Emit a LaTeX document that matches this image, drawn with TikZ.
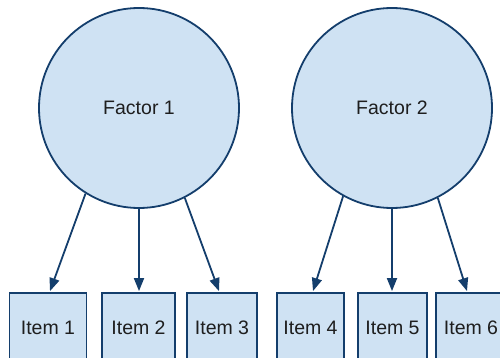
\documentclass[tikz,border=0pt]{standalone}
\usepackage{fontspec}
\setmainfont{Liberation Sans}
\usetikzlibrary{arrows.meta,calc}
\definecolor{edge}{RGB}{20,62,108}
\definecolor{fillb}{RGB}{207,226,243}
\definecolor{txt}{RGB}{30,30,30}
\begin{document}
\begin{tikzpicture}[x=1pt,y=-1pt,
  factor/.style={circle,draw=edge,fill=fillb,line width=1.8pt,minimum size=200pt,inner sep=0pt,
    font=\fontsize{19.5}{23}\selectfont,text=txt},
  itembox/.style={rectangle,draw=edge,fill=fillb,line width=1.8pt,minimum height=70pt,inner sep=0pt,
    font=\fontsize{19.5}{23}\selectfont,text=txt},
  load/.style={draw=edge,line width=1.8pt,-{Triangle[length=13pt,width=10pt]}}]
\useasboundingbox (0,0) rectangle (500,358);
\begin{scope}
\clip (0,0) rectangle (500,358);
\node[factor] (f1) at (139,108) {Factor 1};
\node[factor] (f2) at (392,108) {Factor 2};
\node[itembox,minimum width=77pt] (i1) at (48,328) {Item 1};
\node[itembox,minimum width=73pt] (i2) at (138.5,328) {Item 2};
\node[itembox,minimum width=70pt] (i3) at (222,328) {Item 3};
\node[itembox,minimum width=67pt] (i4) at (310.5,328) {Item 4};
\node[itembox,minimum width=69pt] (i5) at (392.5,328) {Item 5};
\node[itembox,minimum width=70pt] (i6) at (471,328) {Item 6};
\draw[load] (f1.238) -- ($(i1.north)+(2,-1)$);
\draw[load] (f1.270) -- ($(i2.north)+(0.5,-1)$);
\draw[load] (f1.297) -- ($(i3.north)+(-3,-1)$);
\draw[load] (f2.241) -- ($(i4.north)+(2.5,-1)$);
\draw[load] (f2.270) -- ($(i5.north)+(-0.5,-1)$);
\draw[load] (f2.297) -- ($(i6.north)+(-4,-1)$);
\end{scope}
\end{tikzpicture}
\end{document}
